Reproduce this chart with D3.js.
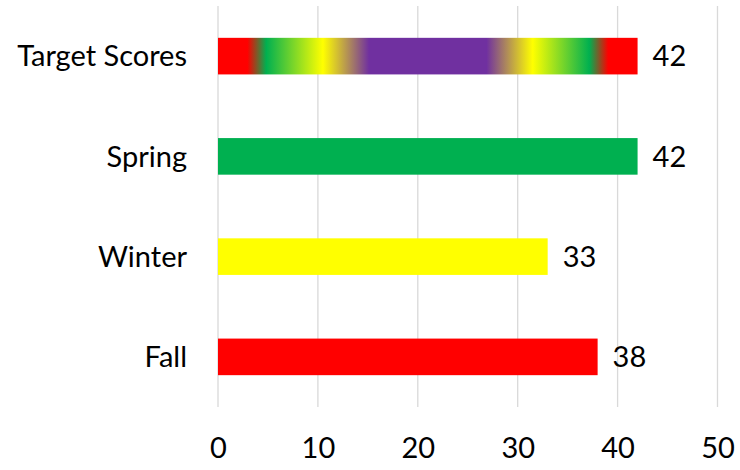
<!DOCTYPE html>
<html>
<head>
<meta charset="utf-8">
<script src="https://cdnjs.cloudflare.com/ajax/libs/d3/7.8.5/d3.min.js"></script>
<style>
  body { margin: 0; background: #fff; }
  text { font-family: Lato, "Open Sans", sans-serif; fill: #000; }
</style>
</head>
<body>
<svg class="chart"></svg>
<script>
var categories = ["Target Scores", "Spring", "Winter", "Fall"];
var values = [42, 42, 33, 38];
var barColors = ["url(#target-grad)", "#00B050", "#FFFF00", "#FF0000"];
var tickValues = [0, 10, 20, 30, 40, 50];

// gradient for target bar: offset, colour
var gradOffsets = [0, 0.07, 0.115, 0.25, 0.36, 0.64, 0.75, 0.885, 0.93, 1];
var gradColors = ["#FF0000", "#FF0000", "#00B050", "#FFFF00", "#7030A0", "#7030A0", "#FFFF00", "#00B050", "#FF0000", "#FF0000"];

var width = 740, height = 470;
var plotLeft = 218, plotRight = 717.5, plotTop = 6, plotBottom = 407;
var fontSize = "29px";

var chart = d3.select(".chart").attr("width", width).attr("height", height);

var x = d3.scaleLinear().domain([0, 50]).range([plotLeft, plotRight]);
var y = d3.scaleBand().domain(categories).range([plotTop, plotBottom]).paddingInner(0.635).paddingOuter(0.3175);

var grad = chart.append("defs").append("linearGradient")
    .attr("id", "target-grad")
    .attr("x1", "0%").attr("x2", "100%").attr("y1", "0%").attr("y2", "0%");
grad.selectAll("stop")
    .data(gradOffsets)
    .enter().append("stop")
    .attr("offset", function(d) { return d; })
    .attr("stop-color", function(d, i) { return gradColors[i]; });

// gridlines
chart.append("g")
    .selectAll("line")
    .data(tickValues)
    .enter().append("line")
    .attr("x1", function(d) { return x(d); })
    .attr("x2", function(d) { return x(d); })
    .attr("y1", plotTop)
    .attr("y2", plotBottom)
    .attr("stroke", "#d9d9d9")
    .attr("stroke-width", 1.3);

// bars
chart.append("g")
    .selectAll("rect")
    .data(values)
    .enter().append("rect")
    .attr("x", x(0))
    .attr("y", function(d, i) { return y(categories[i]); })
    .attr("width", function(d) { return x(d) - x(0); })
    .attr("height", y.bandwidth())
    .attr("fill", function(d, i) { return barColors[i]; });

// value labels
chart.append("g")
    .selectAll("text")
    .data(values)
    .enter().append("text")
    .attr("x", function(d) { return x(d) + 15; })
    .attr("y", function(d, i) { return y(categories[i]) + y.bandwidth() / 2; })
    .attr("dy", "0.35em")
    .style("font-size", fontSize)
    .text(function(d) { return d; });

// category labels
chart.append("g")
    .selectAll("text")
    .data(categories)
    .enter().append("text")
    .attr("x", 187)
    .attr("y", function(d) { return y(d) + y.bandwidth() / 2; })
    .attr("dy", "0.35em")
    .attr("text-anchor", "end")
    .style("font-size", fontSize)
    .text(function(d) { return d; });

// x axis tick labels
var xAxis = chart.append("g")
    .attr("transform", "translate(0," + (plotBottom + 30) + ")")
    .call(d3.axisBottom(x).tickValues(tickValues).tickSize(0).tickPadding(0));
xAxis.select(".domain").remove();
xAxis.selectAll("text")
    .style("font-size", fontSize)
    .style("font-family", "Lato, 'Open Sans', sans-serif")
    .attr("dy", "0.71em");
</script>
</body>
</html>
